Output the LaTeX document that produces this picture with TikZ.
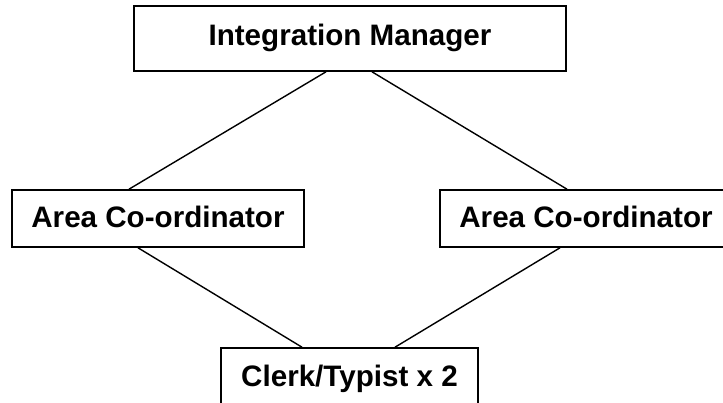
\documentclass[tikz,border=0pt]{standalone}
\usepackage{fontspec}
\setmainfont{Liberation Sans}
\begin{document}
\begin{tikzpicture}[x=1pt,y=1pt,
  box/.style={draw=black, line width=1.6pt, fill=white, rectangle, inner sep=0pt,
    font=\fontsize{29.6}{34}\selectfont\bfseries, text height=21pt, text depth=2pt},
  link/.style={draw=black, line width=1.4pt}]
\useasboundingbox (0,0) rectangle (723,402);
\clip (0,0) rectangle (723,402);
\fill[white] (0,0) rectangle (723,402);
\node[box, minimum width=432pt, minimum height=65pt, text depth=7pt] (top) at (350,363.5) {Integration Manager};
\node[box, minimum width=292pt, minimum height=57pt] (left) at (158,183.5) {Area Co-ordinator};
\node[box, minimum width=292pt, minimum height=57pt] (right) at (586,183.5) {Area Co-ordinator};
\node[box, minimum width=257pt, minimum height=57pt] (clerk) at (349.5,25.5) {Clerk/Typist x 2};
\draw[link] ([xshift=-24pt]top.south) -- ([xshift=-29pt]left.north);
\draw[link] ([xshift=22pt]top.south) -- ([xshift=-19pt]right.north);
\draw[link] ([xshift=-20pt]left.south) -- ([xshift=-47.5pt]clerk.north);
\draw[link] ([xshift=-26pt]right.south) -- ([xshift=45.5pt]clerk.north);
\end{tikzpicture}
\end{document}
